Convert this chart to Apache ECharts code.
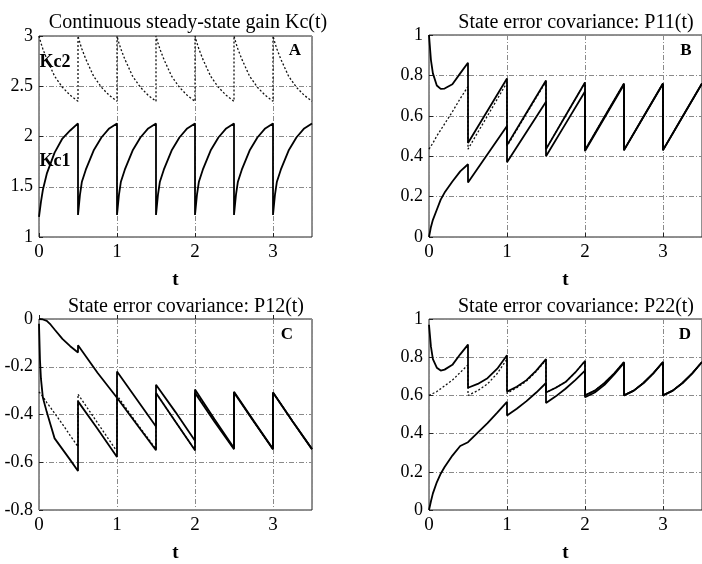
<!DOCTYPE html>
<html>
<head>
<meta charset="utf-8">
<script src="https://cdn.jsdelivr.net/npm/echarts@6/dist/echarts.min.js"></script>
<style>
  html, body { margin: 0; padding: 0; background: #fff; }
  #chart { width: 702px; height: 564px; }
</style>
</head>
<body>
<div id="chart"></div>
<script>
// panel A: time grid and the two gains
const tA = [
  0, 0.025, 0.05, 0.1, 0.2, 0.3, 0.4, 0.5,
  0.5, 0.525, 0.55, 0.6, 0.7, 0.8, 0.9, 1,
  1, 1.025, 1.05, 1.1, 1.2, 1.3, 1.4, 1.5,
  1.5, 1.525, 1.55, 1.6, 1.7, 1.8, 1.9, 2,
  2, 2.025, 2.05, 2.1, 2.2, 2.3, 2.4, 2.5,
  2.5, 2.525, 2.55, 2.6, 2.7, 2.8, 2.9, 3,
  3, 3.025, 3.05, 3.1, 3.2, 3.3, 3.4, 3.5
]
const kc1 = [
  1.20, 1.35, 1.47, 1.63, 1.84, 1.98, 2.06, 2.13,
  1.22, 1.42, 1.55, 1.67, 1.86, 1.99, 2.08, 2.13,
  1.22, 1.42, 1.55, 1.67, 1.86, 1.99, 2.08, 2.13,
  1.22, 1.42, 1.55, 1.67, 1.86, 1.99, 2.08, 2.13,
  1.22, 1.42, 1.55, 1.67, 1.86, 1.99, 2.08, 2.13,
  1.22, 1.42, 1.55, 1.67, 1.86, 1.99, 2.08, 2.13,
  1.22, 1.42, 1.55, 1.67, 1.86, 1.99, 2.08, 2.13
]
const kc2 = [
  3.0, 2.93, 2.87, 2.77, 2.60, 2.49, 2.41, 2.35,
  3.0, 2.93, 2.87, 2.77, 2.60, 2.49, 2.41, 2.35,
  3.0, 2.93, 2.87, 2.77, 2.60, 2.49, 2.41, 2.35,
  3.0, 2.93, 2.87, 2.77, 2.60, 2.49, 2.41, 2.35,
  3.0, 2.93, 2.87, 2.77, 2.60, 2.49, 2.41, 2.35,
  3.0, 2.93, 2.87, 2.77, 2.60, 2.49, 2.41, 2.35,
  3.0, 2.93, 2.87, 2.77, 2.60, 2.49, 2.41, 2.35
]

// panel B: P11
const tB = [
  0, 0.025, 0.05, 0.1, 0.15, 0.2, 0.3, 0.4, 0.5,
  0.5, 0.75, 1,
  1, 1.25, 1.5,
  1.5, 1.75, 2,
  2, 2.25, 2.5,
  2.5, 2.75, 3,
  3, 3.25, 3.5
]
const p11a = [
  1.0, 0.876, 0.81, 0.75, 0.733, 0.735, 0.756, 0.81, 0.863,
  0.465, 0.625, 0.785,
  0.455, 0.615, 0.775,
  0.435, 0.60, 0.765,
  0.43, 0.595, 0.76,
  0.43, 0.595, 0.76,
  0.43, 0.595, 0.76
]
const p11b = [
  0.435, 0.45, 0.465, 0.50, 0.53, 0.56, 0.62, 0.685, 0.745,
  0.435, 0.60, 0.765,
  0.45, 0.61, 0.77,
  0.435, 0.60, 0.765,
  0.43, 0.595, 0.76,
  0.43, 0.595, 0.76,
  0.43, 0.595, 0.76
]
const p11c = [
  0, 0.05, 0.085, 0.135, 0.185, 0.22, 0.275, 0.325, 0.36,
  0.27, 0.41, 0.55,
  0.37, 0.52, 0.67,
  0.40, 0.56, 0.72,
  0.425, 0.59, 0.755,
  0.43, 0.595, 0.76,
  0.43, 0.595, 0.76
]

// panel C: P12
const tC = [
  0, 0.0125, 0.025, 0.05, 0.1, 0.15, 0.2, 0.3, 0.4, 0.5,
  0.5, 0.75, 1,
  1, 1.25, 1.5,
  1.5, 1.75, 2,
  2, 2.25, 2.5,
  2.5, 2.75, 3,
  3, 3.25, 3.5
]
const p12a = [
  0, 0, 0, -0.002, -0.008, -0.024, -0.044, -0.083, -0.114, -0.14,
  -0.11, -0.225, -0.33,
  -0.22, -0.335, -0.45,
  -0.275, -0.39, -0.51,
  -0.295, -0.42, -0.54,
  -0.305, -0.425, -0.545,
  -0.308, -0.428, -0.545
]
const p12b = [
  -0.02, -0.17, -0.25, -0.33, -0.39, -0.445, -0.50, -0.545, -0.59, -0.637,
  -0.345, -0.46, -0.578,
  -0.33, -0.44, -0.55,
  -0.31, -0.43, -0.55,
  -0.31, -0.43, -0.545,
  -0.308, -0.428, -0.545,
  -0.308, -0.428, -0.545
]
const p12c = [
  -0.305, -0.31, -0.315, -0.325, -0.35, -0.372, -0.395, -0.44, -0.488, -0.535,
  -0.315, -0.435, -0.555,
  -0.32, -0.435, -0.545,
  -0.31, -0.43, -0.55,
  -0.305, -0.425, -0.545,
  -0.308, -0.428, -0.545,
  -0.308, -0.428, -0.545
]

// panel D: P22
const tD = [
  0, 0.025, 0.05, 0.1, 0.15, 0.2, 0.3, 0.4, 0.5,
  0.5, 0.625, 0.75, 0.875, 1,
  1, 1.125, 1.25, 1.375, 1.5,
  1.5, 1.625, 1.75, 1.875, 2,
  2, 2.125, 2.25, 2.375, 2.5,
  2.5, 2.625, 2.75, 2.875, 3,
  3, 3.125, 3.25, 3.375, 3.5
]
const p22a = [
  0.97, 0.855, 0.79, 0.745, 0.73, 0.735, 0.76, 0.815, 0.866,
  0.64, 0.66, 0.69, 0.74, 0.81,
  0.62, 0.645, 0.68, 0.73, 0.79,
  0.615, 0.64, 0.67, 0.72, 0.78,
  0.60, 0.625, 0.665, 0.715, 0.775,
  0.60, 0.625, 0.665, 0.715, 0.775,
  0.60, 0.625, 0.665, 0.715, 0.775
]
const p22b = [
  0.60, 0.605, 0.61, 0.62, 0.635, 0.65, 0.68, 0.72, 0.76,
  0.60, 0.625, 0.66, 0.715, 0.79,
  0.61, 0.64, 0.675, 0.725, 0.785,
  0.615, 0.64, 0.67, 0.72, 0.78,
  0.60, 0.625, 0.665, 0.715, 0.775,
  0.60, 0.625, 0.665, 0.715, 0.775,
  0.60, 0.625, 0.665, 0.715, 0.775
]
const p22c = [
  0, 0.046, 0.087, 0.145, 0.19, 0.225, 0.285, 0.335, 0.355,
  0.355, 0.405, 0.455, 0.51, 0.566,
  0.495, 0.53, 0.57, 0.615, 0.665,
  0.56, 0.595, 0.635, 0.68, 0.73,
  0.59, 0.615, 0.655, 0.71, 0.77,
  0.60, 0.625, 0.665, 0.715, 0.775,
  0.60, 0.625, 0.665, 0.715, 0.775
]

const titles = [
  'Continuous steady-state gain Kc(t)',
  'State error covariance: P11(t)',
  'State error covariance: P12(t)',
  'State error covariance: P22(t)'
]
const panelLetters = ['A', 'B', 'C', 'D']
const xTicks = [0, 3.5, 1]
const yRanges = [[1, 3, 0.5], [0, 1, 0.2], [-0.8, 0, 0.2], [0, 1, 0.2]]

const FONT = '"Liberation Serif", "DejaVu Serif", serif'

// plot boxes in pixels
const boxes = [
  { left: 39, top: 36, width: 273, height: 201 },
  { left: 429, top: 35, width: 274, height: 202 },
  { left: 39, top: 319, width: 273, height: 202 },
  { left: 429, top: 319, width: 274, height: 202 }
]

function zip(t, v) {
  return t.map((x, i) => [x, v[i]])
}

const gridLine = { show: true, lineStyle: { color: '#8a8a8a', width: 1, type: [5, 2, 1, 2] } }

const chart = echarts.init(document.getElementById('chart'), null, { renderer: 'canvas' })

const grids = boxes.map(b => ({
  ...b,
  show: true,
  borderColor: '#222',
  borderWidth: 1,
  backgroundColor: 'transparent'
}))

const xAxes = boxes.map((b, i) => ({
  type: 'value',
  gridIndex: i,
  min: xTicks[0],
  max: xTicks[1],
  interval: xTicks[2],
  name: 't',
  nameLocation: 'middle',
  nameGap: 34,
  nameTextStyle: { fontFamily: FONT, fontSize: 19, color: '#000', fontWeight: 'bold' },
  axisLine: { show: false },
  axisTick: { show: true, inside: true, length: 4, lineStyle: { color: '#222' } },
  axisLabel: { fontFamily: FONT, fontSize: 19, color: '#000', margin: 6, showMaxLabel: false },
  splitLine: gridLine
}))

const yAxes = boxes.map((b, i) => ({
  type: 'value',
  gridIndex: i,
  min: yRanges[i][0],
  max: yRanges[i][1],
  interval: yRanges[i][2],
  axisLine: { show: false },
  axisTick: { show: true, inside: true, length: 4, lineStyle: { color: '#222' } },
  axisLabel: { fontFamily: FONT, fontSize: 18, color: '#000', margin: 6 },
  splitLine: gridLine
}))

function solid(name, idx, t, v) {
  return {
    name, type: 'line', xAxisIndex: idx, yAxisIndex: idx,
    data: zip(t, v), showSymbol: false, symbol: 'none', animation: false,
    lineStyle: { color: '#000', width: 1.8 }
  }
}
function dotted(name, idx, t, v) {
  return {
    name, type: 'line', xAxisIndex: idx, yAxisIndex: idx,
    data: zip(t, v), showSymbol: false, symbol: 'none', animation: false,
    lineStyle: { color: '#111', width: 1.3, type: [2, 2] }
  }
}

const series = [
  dotted('Kc2', 0, tA, kc2),
  solid('Kc1', 0, tA, kc1),
  dotted('P11 b', 1, tB, p11b),
  solid('P11 a', 1, tB, p11a),
  solid('P11 c', 1, tB, p11c),
  dotted('P12 c', 2, tC, p12c),
  solid('P12 a', 2, tC, p12a),
  solid('P12 b', 2, tC, p12b),
  dotted('P22 b', 3, tD, p22b),
  solid('P22 a', 3, tD, p22a),
  solid('P22 c', 3, tD, p22c)
]

const titlePos = [[188, 13], [576, 13], [186, 297], [576, 297]]
const letterPos = [[295, 51], [686, 51], [287, 335], [685, 335]]

const graphics = []
letterPos.forEach((p, i) => {
  graphics.push({
    type: 'text', x: p[0], y: p[1],
    style: { text: panelLetters[i], font: 'bold 17px ' + FONT, fill: '#000', align: 'center', verticalAlign: 'middle' }
  })
})
graphics.push({
  type: 'text', x: 55, y: 62,
  style: { text: 'Kc2', font: 'bold 18px ' + FONT, fill: '#000', align: 'center', verticalAlign: 'middle' }
})
graphics.push({
  type: 'text', x: 55, y: 161,
  style: { text: 'Kc1', font: 'bold 18px ' + FONT, fill: '#000', align: 'center', verticalAlign: 'middle' }
})

chart.setOption({
  animation: false,
  backgroundColor: '#fff',
  title: titles.map((t, i) => ({
    text: t,
    left: titlePos[i][0],
    top: titlePos[i][1],
    textAlign: 'center',
    padding: 0,
    textStyle: { fontFamily: FONT, fontSize: 20, fontWeight: 'normal', color: '#000' }
  })),
  grid: grids,
  xAxis: xAxes,
  yAxis: yAxes,
  series,
  graphic: graphics
})
</script>
</body>
</html>
